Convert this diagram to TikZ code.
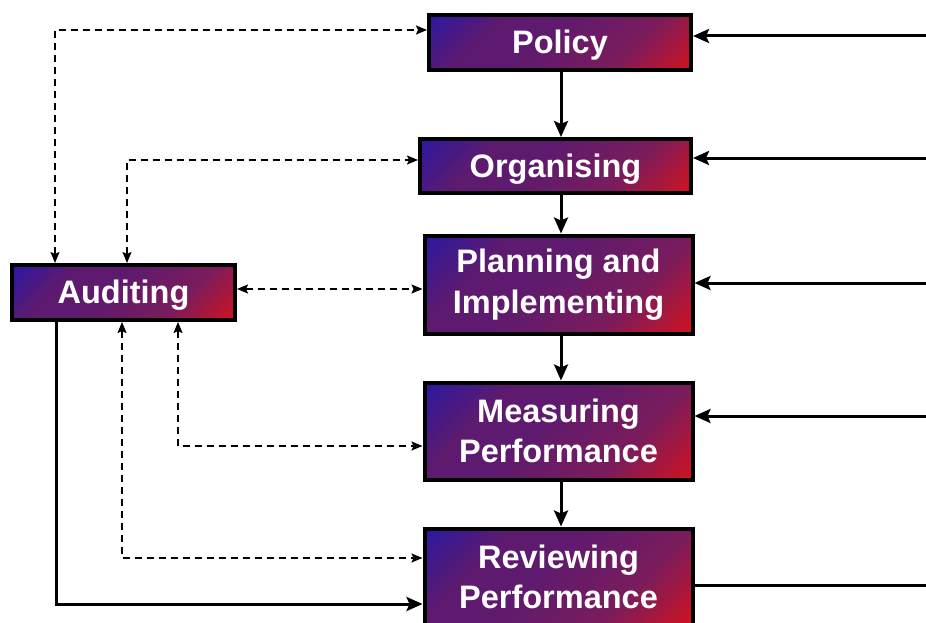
\documentclass[tikz,border=0pt]{standalone}
\usepackage{fontspec}
\setmainfont{Liberation Sans}
\usetikzlibrary{arrows.meta}
\definecolor{cblue}{HTML}{2418A8}
\definecolor{cpurple}{HTML}{5E1A6E}
\definecolor{cpurpleb}{HTML}{7A1C5C}
\definecolor{cred}{HTML}{D8121A}
\pgfdeclareverticalshading{boxshade}{100bp}{color(0bp)=(cred); color(13bp)=(cred); color(33bp)=(cpurpleb); color(55bp)=(cpurple); color(68bp)=(cpurple); color(88bp)=(cblue); color(100bp)=(cblue)}
\newcommand\lowstrut{\rule{0pt}{29.5pt}}
\tikzset{
  boxnode/.style={draw=black, line width=4pt, rectangle, inner sep=0pt,
    shading=boxshade, shading angle=45,
    text=white, font=\fontsize{32.5}{40.5}\selectfont\bfseries, align=center},
  solidarrow/.style={line width=3pt, -{Stealth[length=16pt,width=14pt,inset=3pt]}},
  solidline/.style={line width=3pt},
  dasharrow/.style={line width=1.6pt, dash pattern=on 7pt off 5pt, {Stealth[length=11pt,width=9pt,inset=2pt]}-{Stealth[length=11pt,width=9pt,inset=2pt]}}
}
\begin{document}
\begin{tikzpicture}[x=1pt,y=-1pt]
\useasboundingbox (0,0) rectangle (926,623);
\node[boxnode, minimum width=262pt, minimum height=55pt] (policy) at (560,42.5) {\lowstrut Policy};
\node[boxnode, minimum width=271pt, minimum height=54pt] (org) at (555.5,166) {\lowstrut Organising};
\node[boxnode, minimum width=268pt, minimum height=98pt] (plan) at (558.5,284.5) {Planning and\\Implementing};
\node[boxnode, minimum width=268pt, minimum height=97pt] (meas) at (558.5,431) {Measuring\\Performance};
\node[boxnode, minimum width=268pt, minimum height=97pt] (rev) at (558.5,577) {Reviewing\\Performance};
\node[boxnode, minimum width=223pt, minimum height=55pt] (aud) at (123.5,292.5) {\lowstrut Auditing};

% vertical chain
\draw[solidarrow] (policy.south -| 561,0) -- (org.north -| 561,0);
\draw[solidarrow] (org.south -| 561,0) -- (plan.north -| 561,0);
\draw[solidarrow] (plan.south -| 561,0) -- (meas.north -| 561,0);
\draw[solidarrow] (meas.south -| 561,0) -- (rev.north -| 561,0);

% right side inputs
\coordinate (r1) at (926,36);
\coordinate (r2) at (926,158);
\coordinate (r3) at (926,283);
\coordinate (r4) at (926,416);
\coordinate (r5) at (926,585);
\draw[solidarrow] (r1) -- (policy.east |- r1);
\draw[solidarrow] (r2) -- (org.east |- r2);
\draw[solidarrow] (r3) -- (plan.east |- r3);
\draw[solidarrow] (r4) -- (meas.east |- r4);
\draw[solidline] (rev.east |- r5) -- (r5);

% auditing solid to reviewing
\coordinate (c1) at (56,604);
\draw[solidarrow] (aud.south -| c1) -- (c1) -- (rev.west |- c1);

% dashed links
\coordinate (d1) at (55,30);
\coordinate (d2) at (127,160);
\coordinate (d3) at (0,289);
\coordinate (d4) at (178,446);
\coordinate (d5) at (122,558);
\draw[dasharrow] (aud.north -| d1) -- (d1) -- (policy.west |- d1);
\draw[dasharrow] (aud.north -| d2) -- (d2) -- (org.west |- d2);
\draw[dasharrow] (aud.east |- d3) -- (plan.west |- d3);
\draw[dasharrow] (aud.south -| d4) -- (d4) -- (meas.west |- d4);
\draw[dasharrow] (aud.south -| d5) -- (d5) -- (rev.west |- d5);
\end{tikzpicture}
\end{document}
